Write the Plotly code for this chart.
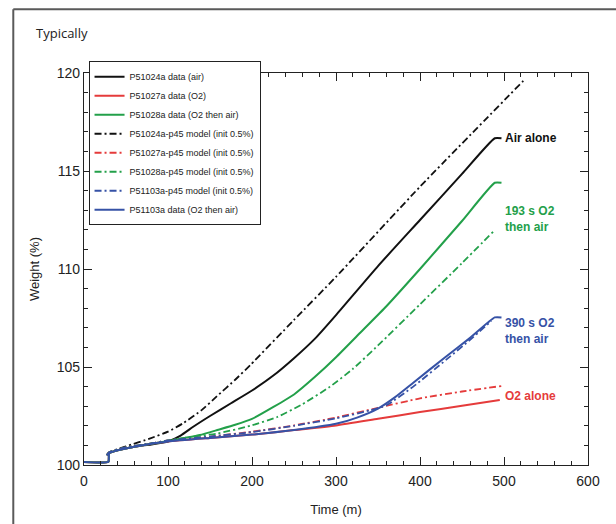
import plotly.graph_objects as go

# ---- data ----
t_air = [0, 29, 30, 40, 60, 80, 100, 115, 130, 150, 175, 200, 225, 250, 275, 300, 350, 400, 450, 489, 497]
w_air = [100.15, 100.17, 100.6, 100.75, 100.93, 101.05, 101.2, 101.5, 101.95, 102.5, 103.15, 103.8, 104.55, 105.45, 106.45, 107.65, 110.15, 112.5, 114.85, 116.67, 116.67]

t_o2 = [0, 29, 30, 40, 60, 80, 100, 150, 200, 250, 300, 350, 400, 450, 495]
w_o2 = [100.15, 100.17, 100.6, 100.75, 100.93, 101.08, 101.2, 101.38, 101.55, 101.78, 102.02, 102.36, 102.7, 103.02, 103.32]

t_o2air = [0, 29, 30, 40, 60, 80, 100, 120, 138, 160, 180, 200, 225, 250, 275, 300, 330, 360, 400, 450, 489, 497]
w_o2air = [100.15, 100.17, 100.6, 100.75, 100.93, 101.08, 101.22, 101.38, 101.53, 101.8, 102.05, 102.35, 102.95, 103.6, 104.5, 105.5, 106.8, 108.1, 110.0, 112.45, 114.4, 114.4]

t_m_air = [27, 30, 50, 79, 100, 118, 140, 158, 180, 198, 250, 300, 400, 523]
w_m_air = [100.5, 100.65, 100.95, 101.36, 101.7, 102.13, 102.8, 103.5, 104.35, 105.1, 107.4, 109.6, 114.2, 119.6]

t_m_o2 = [27, 30, 50, 80, 100, 150, 200, 250, 300, 350, 400, 450, 497]
w_m_o2 = [100.5, 100.65, 100.9, 101.1, 101.25, 101.45, 101.7, 102.02, 102.42, 102.92, 103.4, 103.75, 104.03]

t_m_o2air = [27, 30, 50, 80, 100, 130, 158, 198, 230, 260, 293, 320, 350, 400, 450, 487]
w_m_o2air = [100.5, 100.65, 100.9, 101.1, 101.25, 101.45, 101.6, 102.0, 102.45, 103.1, 104.0, 104.9, 106.1, 108.2, 110.3, 111.9]

t_m_390 = [27, 30, 50, 80, 100, 150, 200, 250, 300, 340, 360, 392, 432, 460, 485]
w_m_390 = [100.5, 100.65, 100.9, 101.1, 101.25, 101.45, 101.68, 102.0, 102.38, 102.78, 103.05, 104.0, 105.4, 106.4, 107.35]

t_390 = [0, 29, 30, 40, 60, 80, 100, 150, 200, 250, 300, 325, 350, 370, 392, 430, 460, 489, 497]
w_390 = [100.15, 100.17, 100.6, 100.75, 100.93, 101.08, 101.2, 101.38, 101.55, 101.78, 102.1, 102.42, 102.88, 103.45, 104.2, 105.5, 106.5, 107.53, 107.53]

names = [
    "P51024a data (air)",
    "P51027a data (O2)",
    "P51028a data (O2 then air)",
    "P51024a-p45 model (init 0.5%)",
    "P51027a-p45 model (init 0.5%)",
    "P51028a-p45 model (init 0.5%)",
    "P51103a-p45 model (init 0.5%)",
    "P51103a data (O2 then air)",
]

BLACK = "#111111"
RED = "#e53b3b"
GREEN = "#23a04a"
BLUE = "#3652a6"
DD = "7px,3px,2px,3px"

series = [
    (t_air, w_air, BLACK, "solid"),
    (t_o2, w_o2, RED, "solid"),
    (t_o2air, w_o2air, GREEN, "solid"),
    (t_m_air, w_m_air, BLACK, DD),
    (t_m_o2, w_m_o2, RED, DD),
    (t_m_o2air, w_m_o2air, GREEN, DD),
    (t_m_390, w_m_390, BLUE, DD),
    (t_390, w_390, BLUE, "solid"),
]

fig = go.Figure()
for (tx, wy, col, dash), nm in zip(series, names):
    fig.add_trace(go.Scatter(
        x=tx, y=wy, mode="lines", name=nm,
        line=dict(color=col, width=2 if dash == "solid" else 1.8, dash=dash,
                  shape="spline", smoothing=0.5),
    ))

FONT = "Arial, Liberation Sans, sans-serif"
tickfont = dict(family=FONT, size=14, color="#222")
common = dict(
    showline=True, linecolor="#222", linewidth=1.3, mirror="allticks",
    ticks="inside", ticklen=8, tickwidth=1.3, tickcolor="#222",
    showgrid=False, zeroline=False, automargin=False, tickfont=tickfont,
)

fig.update_xaxes(
    range=[0, 600], dtick=100, tick0=0, ticklabelstandoff=3,
    minor=dict(ticks="inside", ticklen=4, dtick=20, tickcolor="#222", tickwidth=1.1),
    title=dict(text="Time (m)", font=dict(family=FONT, size=13, color="#222"), standoff=16),
    **common,
)
fig.update_yaxes(
    range=[100, 120], dtick=5, tick0=100,
    minor=dict(ticks="inside", ticklen=4, dtick=1, tickcolor="#222", tickwidth=1.1),
    title=dict(text="Weight (%)", font=dict(family=FONT, size=13, color="#222"), standoff=14),
    **common,
)

label_font = "Liberation Sans Narrow, Arial Narrow, Arial, sans-serif"
annots = [
    ("Air alone", 499, 116.68, BLACK),
    ("193 s O2<br>then air", 499, 112.55, GREEN),
    ("390 s O2<br>then air", 499, 106.85, BLUE),
    ("O2 alone", 499, 103.52, RED),
]
for txt, ax_, ay_, col in annots:
    fig.add_annotation(x=ax_, y=ay_, text=txt, showarrow=False, xanchor="left", yanchor="middle",
                       align="left", font=dict(family=label_font, size=12, color=col, weight="bold"))

fig.add_annotation(xref="paper", yref="paper", x=-0.1, y=1.102, xanchor="left", yanchor="middle",
                   text="Typically", showarrow=False,
                   font=dict(family="Open Sans, Noto Sans", size=13, color="#222"))

# outer frame (left and top rules)
fig.add_shape(type="line", xref="paper", yref="paper", x0=-0.1403, x1=-0.1403, y0=-0.2, y1=1.1625,
              line=dict(color="#5a5a5a", width=2))
fig.add_shape(type="line", xref="paper", yref="paper", x0=-0.1403, x1=1.1, y0=1.1625, y1=1.1625,
              line=dict(color="#5a5a5a", width=2))

fig.update_layout(
    width=616, height=524,
    margin=dict(l=84, r=28, t=73, b=59),
    paper_bgcolor="white", plot_bgcolor="white",
    showlegend=True,
    legend=dict(
        x=0.009, y=1.03, xanchor="left", yanchor="top",
        bgcolor="white", bordercolor="#222", borderwidth=1,
        font=dict(family="Liberation Sans Narrow, Arial Narrow, Arial, sans-serif", size=9, color="#222"),
        tracegroupgap=0, itemwidth=30,
    ),
)

fig.write_html("out.html", config={"displayModeBar": False},
               post_script="document.body.style.margin='0';document.body.style.overflow='hidden';")
